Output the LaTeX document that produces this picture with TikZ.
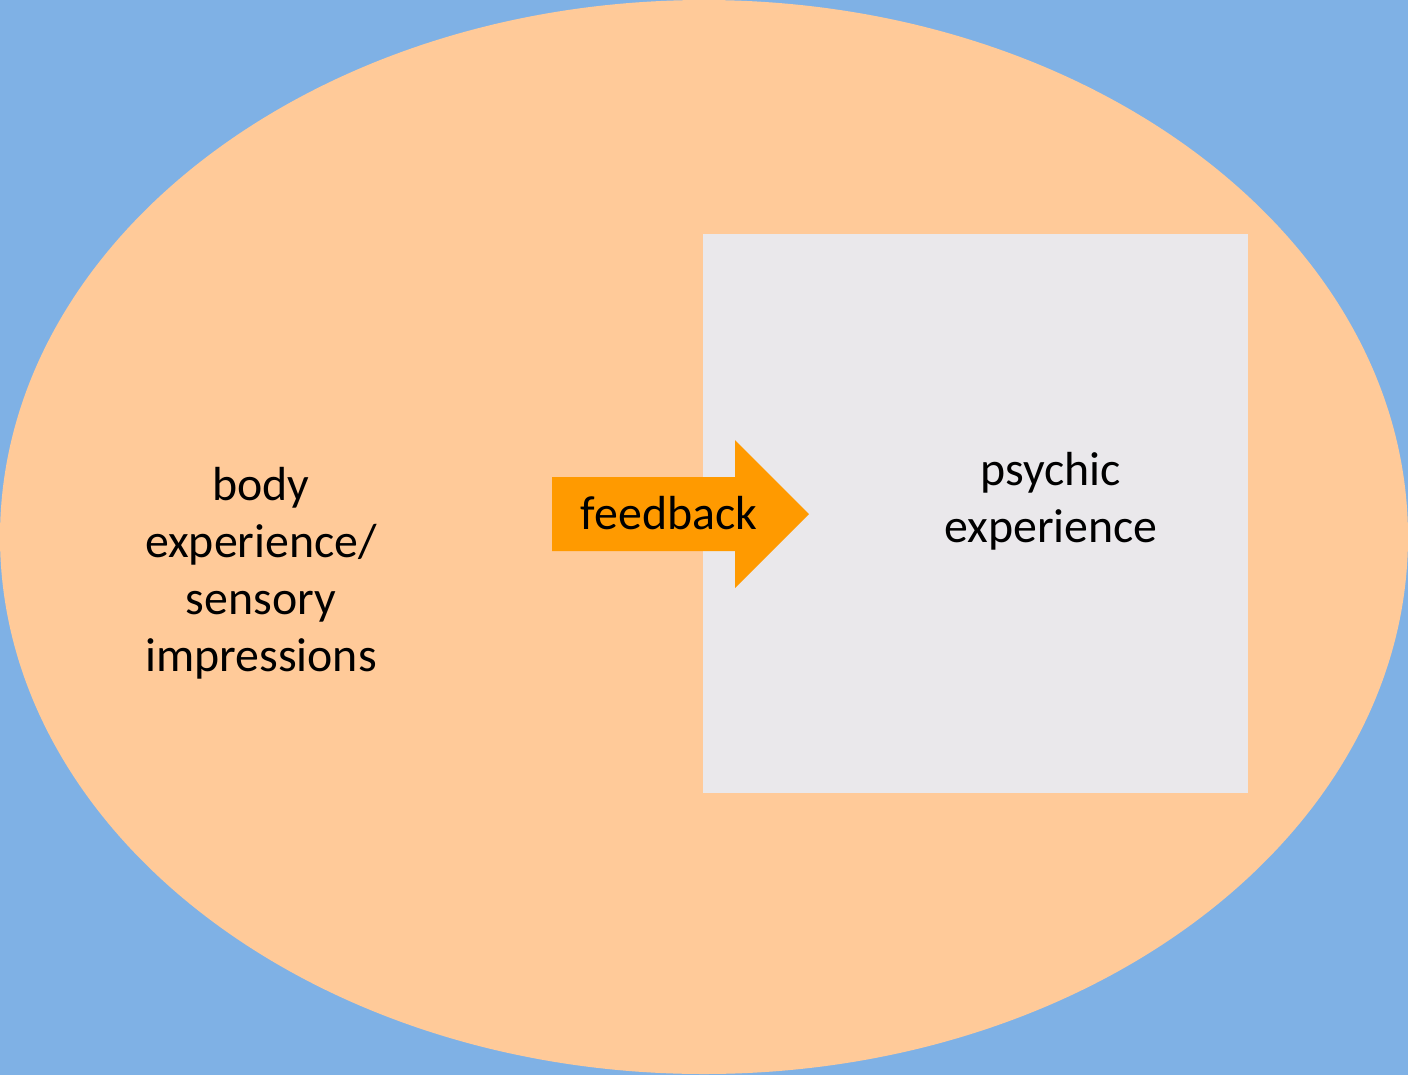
\documentclass[tikz,border=0pt]{standalone}
\usepackage{fontspec}
\setmainfont{Carlito}
\definecolor{skyblue}{HTML}{7FB1E5}
\definecolor{peach}{HTML}{FFCA99}
\definecolor{mindgray}{HTML}{EAE8EB}
\definecolor{feedorange}{HTML}{FF9A00}
\tikzset{
  label text/.style={align=center,font=\fontsize{13.6}{16.2}\selectfont,inner sep=0pt}
}
\begin{document}
\begin{tikzpicture}[x=0.01cm,y=-0.01cm]
		\fill[skyblue] (0,0) rectangle (1408,1075);
		\fill[peach] (704,537) ellipse (704 and 537);
		\fill[mindgray] (703,234) rectangle (1248,793);
		% feedback arrow
		\fill[feedorange] (552,477) -- (735,477) -- (735,440) -- (809,514)
			-- (735,588) -- (735,551) -- (552,551) -- cycle;
		\node[label text] (body) at (261,573) {body\\experience/\\sensory\\impressions};
		\node[label text] (feedback) at (669,513) {feedback};
		\node[label text] (psychic) at (1051,501) {psychic\\experience};
		\end{tikzpicture}
\end{document}
